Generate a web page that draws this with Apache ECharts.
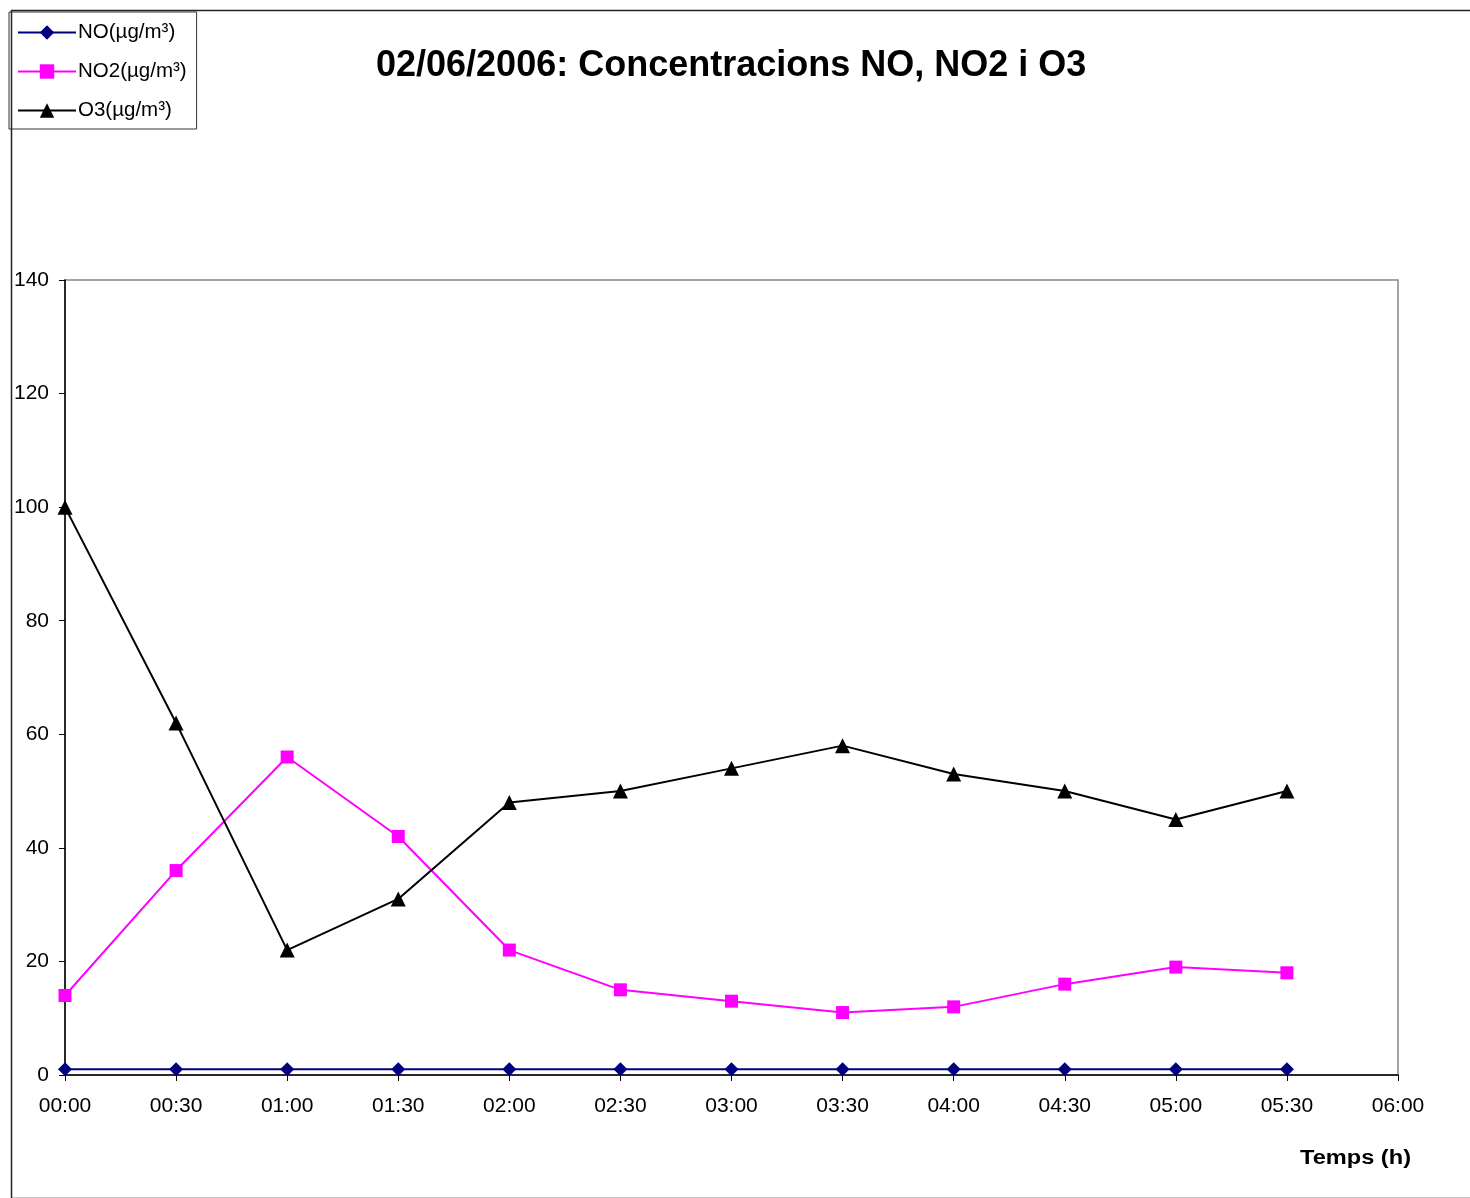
<!DOCTYPE html>
<html>
<head>
<meta charset="utf-8">
<script src="https://cdn.jsdelivr.net/npm/echarts@6/dist/echarts.min.js"></script>
<style>html,body{margin:0;padding:0;background:#fff}#c{width:1470px;height:1198px}</style>
</head>
<body>
<div id="c"></div>
<script>
const categories = ['00:00','00:30','01:00','01:30','02:00','02:30','03:00','03:30','04:00','04:30','05:00','05:30','06:00'];
const noValues  = [1,1,1,1,1,1,1,1,1,1,1,1];
const no2Values = [14,36,56,42,22,15,13,11,12,16,19,18];
const o3Values  = [100,62,22,31,48,50,54,58,53,50,45,50];
const yTicks = {min:0, max:140, interval:20};

const FONT = '"Liberation Sans", Arial, sans-serif';
const chart = echarts.init(document.getElementById('c'), null, {renderer:'canvas'});
chart.setOption({
  animation:false,
  backgroundColor:'#fff',
  title:{
    text:'02/06/2006: Concentracions NO, NO2 i O3',
    left:371, top:43,
    textStyle:{fontFamily:FONT, fontSize:36, fontWeight:'bold', color:'#000'}
  },
  legend:{
    orient:'vertical', left:9, top:12,
    padding:[10,10,8,8],
    itemWidth:58, itemHeight:18, itemGap:18,
    borderColor:'#333', borderWidth:1,
    textStyle:{fontFamily:FONT, fontSize:20.5, color:'#000', lineHeight:20, padding:[0,0,0,-3]},
    data:['NO(µg/m³)','NO2(µg/m³)','O3(µg/m³)']
  },
  grid:{left:65, right:72, top:280, bottom:123, show:true, borderColor:'#888', borderWidth:1.5, containLabel:false},
  xAxis:{
    type:'category', data:categories, boundaryGap:false,
    axisLine:{lineStyle:{color:'#000', width:1.5}},
    axisTick:{show:true, length:6, inside:false, lineStyle:{color:'#000'}},
    axisLabel:{fontFamily:FONT, fontSize:21, color:'#000', margin:21, interval:0},
    splitLine:{show:false}
  },
  yAxis:{
    type:'value', min:yTicks.min, max:yTicks.max, interval:yTicks.interval,
    axisLine:{show:true, lineStyle:{color:'#000', width:1.5}},
    axisTick:{show:true, length:6, lineStyle:{color:'#000'}},
    axisLabel:{fontFamily:FONT, fontSize:21, color:'#000', margin:16},
    splitLine:{show:false}
  },
  series:[
    {name:'NO(µg/m³)', type:'line', data:noValues, symbol:'diamond', symbolSize:14,
     lineStyle:{color:'#000080', width:2}, itemStyle:{color:'#000080'}},
    {name:'NO2(µg/m³)', type:'line', data:no2Values, symbol:'rect', symbolSize:13,
     lineStyle:{color:'#ff00ff', width:2}, itemStyle:{color:'#ff00ff'}},
    {name:'O3(µg/m³)', type:'line', data:o3Values, symbol:'triangle', symbolSize:15,
     lineStyle:{color:'#000', width:2}, itemStyle:{color:'#000'}}
  ],
  graphic:[
    {type:'rect', left:9, top:8, shape:{width:1475, height:1188}, silent:true,
     style:{fill:null, stroke:'#222', lineWidth:1.5}, z:-1},
    {type:'text', x:1300, y:1148, scaleX:1.18, silent:true,
     style:{text:'Temps (h)', font:'bold 20px ' + FONT, fill:'#000'}}
  ]
});
</script>
</body>
</html>
